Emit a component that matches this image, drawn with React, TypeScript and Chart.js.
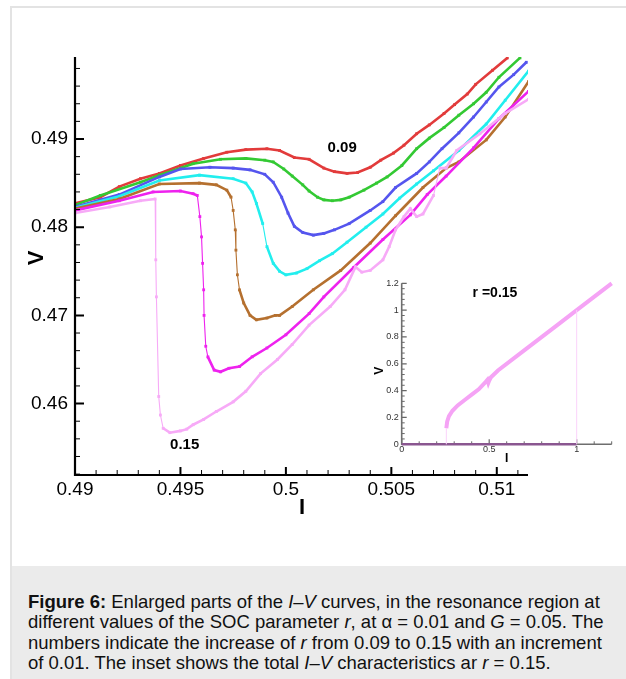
import { useEffect, useRef } from 'react';
import { Chart, registerables } from 'chart.js';

Chart.register(...registerables);

const FONT = '"Liberation Sans", Arial, Helvetica, sans-serif';

// ---------- main chart data (I, V) ----------
const SERIES_LABELS = ['0.09', '0.10', '0.11', '0.12', '0.13', '0.14', '0.15'];
const SERIES_COLORS = ['#e23b3b', '#33c933', '#5555ee', '#22eeee', '#b5702f', '#ee22ee', '#f7aaf7'];

const CURVE_009: [number, number][] = [
  [0.49, 0.4827], [0.4912, 0.4834], [0.4921, 0.4846], [0.4931, 0.4855], [0.494, 0.4861],
  [0.495, 0.487], [0.4961, 0.4878], [0.4972, 0.4885], [0.4981, 0.4888], [0.4991, 0.4889],
  [0.4997, 0.4887], [0.5004, 0.4879], [0.5011, 0.4877], [0.5018, 0.4867], [0.5023, 0.4863],
  [0.5029, 0.4861], [0.5034, 0.4862], [0.504, 0.4868], [0.5045, 0.4876], [0.5051, 0.4884],
  [0.5056, 0.4893], [0.5062, 0.4906], [0.5068, 0.4916], [0.5075, 0.4929], [0.508, 0.4939],
  [0.5086, 0.4951], [0.509, 0.4962], [0.5098, 0.4978], [0.5105, 0.4992],
];
const CURVE_010: [number, number][] = [
  [0.49, 0.4825], [0.4912, 0.4836], [0.4931, 0.4851], [0.494, 0.4859], [0.4956, 0.4872],
  [0.4969, 0.4877], [0.4981, 0.4878], [0.499, 0.4876], [0.4994, 0.4874], [0.4999, 0.4866],
  [0.5003, 0.4858], [0.5008, 0.4848], [0.5011, 0.4841], [0.5015, 0.4834], [0.5018, 0.4831],
  [0.5022, 0.483], [0.5026, 0.4831], [0.503, 0.4834], [0.5037, 0.4842], [0.5043, 0.485],
  [0.5048, 0.4857], [0.5055, 0.4870], [0.5062, 0.4889], [0.5068, 0.4901], [0.5075, 0.4913],
  [0.5082, 0.4927], [0.5089, 0.494], [0.5095, 0.4953], [0.5101, 0.497], [0.5111, 0.4992],
];
const CURVE_011: [number, number][] = [
  [0.49, 0.4823], [0.4921, 0.4837], [0.494, 0.4857], [0.495, 0.4866], [0.4964, 0.4868],
  [0.4975, 0.4867], [0.4983, 0.4865], [0.499, 0.486], [0.4994, 0.4851], [0.4998, 0.4834],
  [0.5001, 0.4816], [0.5004, 0.4801], [0.5008, 0.4794], [0.5013, 0.4791], [0.5018, 0.4793],
  [0.5023, 0.4797], [0.503, 0.4804], [0.504, 0.4819], [0.5046, 0.4829], [0.5052, 0.4845],
  [0.5062, 0.4861], [0.5068, 0.4874], [0.5074, 0.4889], [0.5082, 0.4907], [0.5089, 0.4925],
  [0.5095, 0.4942], [0.5101, 0.4959], [0.5108, 0.4973], [0.5114, 0.4987],
];
const CURVE_012: [number, number][] = [
  [0.49, 0.4822], [0.4921, 0.4835], [0.494, 0.4853], [0.4959, 0.4859], [0.4975, 0.4855],
  [0.4981, 0.485], [0.4984, 0.484], [0.4986, 0.4827], [0.4989, 0.4804], [0.4991, 0.4778],
  [0.4994, 0.4759], [0.4997, 0.475], [0.5, 0.4746], [0.5005, 0.4748], [0.501, 0.4753],
  [0.5016, 0.4762], [0.5022, 0.477], [0.5029, 0.4783], [0.5038, 0.48], [0.5046, 0.4815],
  [0.5054, 0.4833], [0.5062, 0.4849], [0.507, 0.4864], [0.5082, 0.4887], [0.5095, 0.4917],
  [0.5104, 0.4944], [0.5115, 0.4977],
];
const CURVE_013: [number, number][] = [
  [0.49, 0.4821], [0.4921, 0.4832], [0.494, 0.4849], [0.4959, 0.485], [0.4967, 0.4848],
  [0.4972, 0.4842], [0.4974, 0.4834], [0.4975, 0.4819], [0.4976, 0.4797], [0.49763, 0.4774],
  [0.4977, 0.4746], [0.4978, 0.4729], [0.498, 0.4714], [0.4983, 0.47], [0.4986, 0.4695],
  [0.4991, 0.4697], [0.4995, 0.47], [0.4997, 0.47], [0.5003, 0.471], [0.5013, 0.4729],
  [0.5026, 0.4751], [0.504, 0.4782], [0.5052, 0.4813], [0.5065, 0.4845], [0.5076, 0.4867],
  [0.5082, 0.4874], [0.5095, 0.4899], [0.5104, 0.4925], [0.5115, 0.4965],
];
const CURVE_014: [number, number][] = [
  [0.49, 0.4819], [0.4921, 0.483], [0.4937, 0.484], [0.495, 0.4841], [0.4956, 0.4838],
  [0.4958, 0.4836], [0.49592, 0.4812], [0.496, 0.4789], [0.49605, 0.4759], [0.4961, 0.4729],
  [0.49612, 0.47], [0.4962, 0.4665], [0.4963, 0.4653], [0.4966, 0.4638], [0.4969, 0.4636],
  [0.4973, 0.464], [0.4978, 0.4642], [0.4984, 0.4653], [0.4991, 0.4663], [0.5, 0.4678],
  [0.5011, 0.4702], [0.5018, 0.4721], [0.5032, 0.4754], [0.5046, 0.4786], [0.5059, 0.4814],
  [0.5067, 0.4837], [0.5076, 0.4858], [0.5089, 0.489], [0.5101, 0.4923], [0.5115, 0.4954],
];
const CURVE_015: [number, number][] = [
  [0.49, 0.4816], [0.49165, 0.4823], [0.4931, 0.483], [0.4938, 0.4832], [0.49383, 0.4763],
  [0.49386, 0.4721], [0.49397, 0.4608], [0.49405, 0.4587], [0.49418, 0.4572], [0.4945, 0.4567],
  [0.495, 0.4569], [0.4953, 0.4571], [0.4956, 0.4576], [0.4961, 0.4582], [0.4967, 0.4591],
  [0.4975, 0.4602], [0.4981, 0.4614], [0.4988, 0.4634], [0.4996, 0.465], [0.5003, 0.4667],
  [0.5011, 0.4689], [0.5021, 0.471], [0.5028, 0.4729], [0.5033, 0.4755], [0.5036, 0.4749],
  [0.504, 0.4751], [0.5046, 0.4763], [0.5049, 0.4778], [0.5052, 0.4797], [0.5056, 0.4812],
  [0.5059, 0.4821], [0.5062, 0.4812], [0.5065, 0.4815], [0.507, 0.4836], [0.5073, 0.4867],
  [0.5076, 0.4867], [0.5081, 0.4887], [0.5092, 0.4906], [0.5104, 0.4929], [0.5115, 0.4945],
];
const MAIN_CURVES = [CURVE_009, CURVE_010, CURVE_011, CURVE_012, CURVE_013, CURVE_014, CURVE_015];

const X_MIN = 0.49;
const X_MAX = 0.51148;
const Y_MIN = 0.4519;
const Y_MAX = 0.4993;
const X_TICKS = [0.49, 0.495, 0.5, 0.505, 0.51];
const X_TICK_LABELS = ['0.49', '0.495', '0.5', '0.505', '0.51'];
const X_MINOR_STEP = 0.001;
const Y_TICKS = [0.46, 0.47, 0.48, 0.49];
const Y_TICK_LABELS = ['0.46', '0.47', '0.48', '0.49'];
const Y_MINOR_STEP = 0.002;
const CURVE_TAGS: { text: string; x: number; y: number }[] = [
  { text: '0.09', x: 0.50267, y: 0.489 },
  { text: '0.15', x: 0.4952, y: 0.45532 },
];

// ---------- inset data (r = 0.15, full I-V) ----------
const INSET_CURVE: [number, number][] = [
  [0.255, 0.12], [0.26, 0.17], [0.27, 0.21], [0.29, 0.25], [0.32, 0.29], [0.36, 0.33],
  [0.4, 0.37], [0.44, 0.41], [0.48, 0.465], [0.49, 0.48], [0.495, 0.458], [0.5, 0.475],
  [0.51, 0.5], [0.55, 0.55], [0.7, 0.7], [0.9, 0.9], [1.0, 1.0], [1.2, 1.2],
];
const INSET_RETURN_HIGH: [number, number][] = [[1.0, 0], [1.0, 1.0]];
const INSET_RETURN_LOW: [number, number][] = [[0.255, 0], [0.255, 0.12]];
const INSET_ZERO: [number, number][] = [[0, 0], [1.0, 0]];
const INSET_X_TICKS = [0, 0.5, 1];
const INSET_X_TICK_LABELS = ['0', '0.5', '1'];
const INSET_X_MINOR_STEP = 0.1;
const INSET_Y_TICKS = [0, 0.2, 0.4, 0.6, 0.8, 1, 1.2];
const INSET_Y_TICK_LABELS = ['0', '0.2', '0.4', '0.6', '0.8', '1', '1.2'];
const INSET_Y_MINOR_STEP = 0.04;
const INSET_TITLE = { text: 'r =0.15', x: 0.533, y: 1.127 };

const toXY = (arr: [number, number][]) => arr.map(([x, y]) => ({ x, y }));

function drawTicks(
  ctx: CanvasRenderingContext2D,
  scale: any,
  horizontal: boolean,
  edge: number,
  majors: number[],
  minorStep: number,
  majorLen: number,
  minorLen: number,
  majorW: number,
  minorW: number,
  color: string,
) {
  ctx.strokeStyle = color;
  ctx.lineWidth = minorW;
  ctx.beginPath();
  const start = Math.ceil(scale.min / minorStep - 1e-6);
  for (let k = start; k * minorStep <= scale.max + 1e-9; k++) {
    const v = k * minorStep;
    if (majors.some((t) => Math.abs(t - v) < 1e-7)) continue;
    const p = scale.getPixelForValue(v);
    if (horizontal) {
      ctx.moveTo(p, edge);
      ctx.lineTo(p, edge - minorLen);
    } else {
      ctx.moveTo(edge, p);
      ctx.lineTo(edge + minorLen, p);
    }
  }
  ctx.stroke();
  ctx.lineWidth = majorW;
  ctx.beginPath();
  for (const v of majors) {
    const p = scale.getPixelForValue(v);
    if (horizontal) {
      ctx.moveTo(p, edge);
      ctx.lineTo(p, edge - majorLen);
    } else {
      ctx.moveTo(edge, p);
      ctx.lineTo(edge + majorLen, p);
    }
  }
  ctx.stroke();
}

const mainDecor = {
  id: 'mainDecor',
  afterDraw(chart: any) {
    const { ctx, chartArea: a, scales } = chart;
    const xs = scales.x;
    const ys = scales.y;
    ctx.save();
    drawTicks(ctx, xs, true, a.bottom, X_TICKS, X_MINOR_STEP, 8, 5, 2, 1, '#000');
    drawTicks(ctx, ys, false, a.left, Y_TICKS, Y_MINOR_STEP, 9, 5, 2, 1, '#000');
    ctx.strokeStyle = '#000';
    ctx.lineWidth = 2.2;
    ctx.beginPath();
    ctx.moveTo(a.left, a.top);
    ctx.lineTo(a.left, a.bottom);
    ctx.lineTo(a.right, a.bottom);
    ctx.stroke();

    ctx.fillStyle = '#000';
    ctx.textAlign = 'center';
    ctx.textBaseline = 'middle';
    ctx.font = `bold 22px ${FONT}`;
    ctx.fillText('I', (a.left + a.right) / 2 + 0.5, a.bottom + 33);
    ctx.save();
    ctx.translate(a.left - 38, (a.top + a.bottom) / 2 - 8);
    ctx.rotate(-Math.PI / 2);
    ctx.fillText('V', 0, 0);
    ctx.restore();

    ctx.font = `bold 15px ${FONT}`;
    for (const t of CURVE_TAGS) {
      ctx.fillText(t.text, xs.getPixelForValue(t.x), ys.getPixelForValue(t.y));
    }
    ctx.restore();
  },
};

const insetDecor = {
  id: 'insetDecor',
  beforeDatasetsDraw(chart: any) {
    const { ctx, chartArea: a, scales } = chart;
    ctx.save();
    drawTicks(ctx, scales.x, true, a.bottom, INSET_X_TICKS, INSET_X_MINOR_STEP, 5, 3, 1.2, 1, '#666');
    drawTicks(ctx, scales.y, false, a.left, INSET_Y_TICKS, INSET_Y_MINOR_STEP, 5, 3, 1.2, 1, '#666');
    ctx.strokeStyle = '#6e6e6e';
    ctx.lineWidth = 1.6;
    ctx.beginPath();
    ctx.moveTo(a.left, a.top);
    ctx.lineTo(a.left, a.bottom);
    ctx.lineTo(a.right, a.bottom);
    ctx.stroke();
    ctx.restore();
  },
  afterDraw(chart: any) {
    const { ctx, chartArea: a, scales } = chart;
    ctx.save();
    ctx.fillStyle = '#000';
    ctx.textAlign = 'center';
    ctx.textBaseline = 'middle';
    ctx.font = `bold 14px ${FONT}`;
    ctx.fillText(INSET_TITLE.text, scales.x.getPixelForValue(INSET_TITLE.x), scales.y.getPixelForValue(INSET_TITLE.y));
    ctx.font = `bold 12px ${FONT}`;
    ctx.fillText('I', (a.left + a.right) / 2, a.bottom + 14);
    ctx.save();
    ctx.translate(a.left - 22, (a.top + a.bottom) / 2 + 7);
    ctx.rotate(-Math.PI / 2);
    ctx.fillText('V', 0, 0);
    ctx.restore();
    ctx.restore();
  },
};

function steepWidth(thin: number, thick: number) {
  return (c: any) => {
    const dx = Math.abs(c.p1.x - c.p0.x);
    const dy = Math.abs(c.p1.y - c.p0.y);
    return dy > 6 && dy > 4 * dx ? thin : thick;
  };
}

function MainChart() {
  const ref = useRef<HTMLCanvasElement>(null);
  useEffect(() => {
    if (!ref.current) return;
    const chart = new Chart(ref.current, {
      type: 'scatter',
      data: {
        datasets: MAIN_CURVES.map((c, i) => ({
          label: SERIES_LABELS[i],
          data: toXY(c),
          showLine: true,
          borderColor: SERIES_COLORS[i],
          backgroundColor: SERIES_COLORS[i],
          borderWidth: 2.6,
          pointRadius: 2,
          pointStyle: 'rect',
          pointBorderWidth: 0,
          pointBackgroundColor: SERIES_COLORS[i],
          segment: { borderWidth: steepWidth(1.1, 2.6) },
          order: MAIN_CURVES.length - i,
        })),
      },
      options: {
        animation: false,
        responsive: false,
        events: [],
        layout: { padding: { left: 0, top: 57, right: 98, bottom: 35 } },
        plugins: { legend: { display: false }, tooltip: { enabled: false } },
        scales: {
          x: {
            type: 'linear',
            min: X_MIN,
            max: X_MAX,
            grid: { display: false, drawTicks: false },
            border: { display: false },
            afterBuildTicks: (s: any) => {
              s.ticks = X_TICKS.map((v) => ({ value: v }));
            },
            afterFit: (s: any) => {
              s.height = 30;
            },
            ticks: {
              autoSkip: false,
              maxRotation: 0,
              padding: 3,
              color: '#000',
              font: { family: FONT, size: 19 },
              callback: (_v: any, i: number) => X_TICK_LABELS[i],
            },
          },
          y: {
            type: 'linear',
            min: Y_MIN,
            max: Y_MAX,
            grid: { display: false, drawTicks: false },
            border: { display: false },
            afterBuildTicks: (s: any) => {
              s.ticks = Y_TICKS.map((v) => ({ value: v }));
            },
            afterFit: (s: any) => {
              s.width = 75;
            },
            ticks: {
              autoSkip: false,
              padding: 7,
              color: '#000',
              font: { family: FONT, size: 19 },
              callback: (_v: any, i: number) => Y_TICK_LABELS[i],
            },
          },
        },
      } as any,
      plugins: [mainDecor],
    });
    return () => chart.destroy();
  }, []);
  return (
    <canvas
      ref={ref}
      width={626}
      height={540}
      style={{ position: 'absolute', left: 0, top: 0, width: 626, height: 540 }}
    />
  );
}

function InsetChart() {
  const ref = useRef<HTMLCanvasElement>(null);
  useEffect(() => {
    if (!ref.current) return;
    const pink = '#f5a3f5';
    const chart = new Chart(ref.current, {
      type: 'scatter',
      data: {
        datasets: [
          { data: toXY(INSET_RETURN_HIGH), showLine: true, borderColor: '#fbd2fb', borderWidth: 1, pointRadius: 0, clip: 6 },
          { data: toXY(INSET_RETURN_LOW), showLine: true, borderColor: '#fbd2fb', borderWidth: 1, pointRadius: 0, clip: 6 },
          { data: toXY(INSET_CURVE), showLine: true, borderColor: pink, borderWidth: 4, pointRadius: 0, clip: 6 },
          { data: toXY(INSET_ZERO), showLine: true, borderColor: '#8a5690', borderWidth: 2.5, pointRadius: 0, clip: 6 },
        ],
      },
      options: {
        animation: false,
        responsive: false,
        events: [],
        layout: { padding: { left: 21.7, top: 13.3, right: 14.3, bottom: 13.7 } },
        plugins: { legend: { display: false }, tooltip: { enabled: false } },
        scales: {
          x: {
            type: 'linear',
            min: 0,
            max: 1.2,
            grid: { display: false, drawTicks: false },
            border: { display: false },
            afterBuildTicks: (s: any) => {
              s.ticks = INSET_X_TICKS.map((v) => ({ value: v }));
            },
            afterFit: (s: any) => {
              s.height = 12;
            },
            ticks: {
              autoSkip: false,
              maxRotation: 0,
              padding: 0,
              color: '#333',
              font: { family: FONT, size: 9 },
              callback: (_v: any, i: number) => INSET_X_TICK_LABELS[i],
            },
          },
          y: {
            type: 'linear',
            min: 0,
            max: 1.2,
            grid: { display: false, drawTicks: false },
            border: { display: false },
            afterBuildTicks: (s: any) => {
              s.ticks = INSET_Y_TICKS.map((v) => ({ value: v }));
            },
            afterFit: (s: any) => {
              s.width = 20;
            },
            ticks: {
              autoSkip: false,
              padding: 3,
              color: '#333',
              font: { family: FONT, size: 9 },
              callback: (_v: any, i: number) => INSET_Y_TICK_LABELS[i],
            },
          },
        },
      } as any,
      plugins: [insetDecor],
    });
    return () => chart.destroy();
  }, []);
  return (
    <canvas
      ref={ref}
      width={266}
      height={200}
      style={{ position: 'absolute', left: 360, top: 270, width: 266, height: 200 }}
    />
  );
}

export default function App() {
  return (
    <div
      style={{
        position: 'absolute',
        left: 0,
        top: 0,
        width: 626,
        height: 679,
        overflow: 'hidden',
        background: '#fff',
      }}
    >
      <div
        style={{
          position: 'absolute',
          left: 10,
          top: 6,
          width: 616,
          height: 673,
          boxSizing: 'border-box',
          borderLeft: '2px solid #e3e3e3',
          borderTop: '2px solid #e3e3e3',
        }}
      />
      <MainChart />
      <InsetChart />
      <div
        style={{
          position: 'absolute',
          left: 12,
          top: 566,
          width: 614,
          height: 113,
          boxSizing: 'border-box',
          background: '#ebebeb',
          padding: '25.5px 0 0 16px',
          fontFamily: FONT,
          fontSize: 18.5,
          lineHeight: '20.5px',
          color: '#111',
          whiteSpace: 'nowrap',
        }}
      >
        <b>Figure 6:</b> Enlarged parts of the <i>I</i>–<i>V</i> curves, in the resonance region at
        <br />
        different values of the SOC parameter <i>r</i>, at α = 0.01 and <i>G</i> = 0.05. The
        <br />
        numbers indicate the increase of <i>r</i> from 0.09 to 0.15 with an increment
        <br />
        of 0.01. The inset shows the total <i>I</i>–<i>V</i> characteristics ar <i>r</i> = 0.15.
      </div>
    </div>
  );
}
